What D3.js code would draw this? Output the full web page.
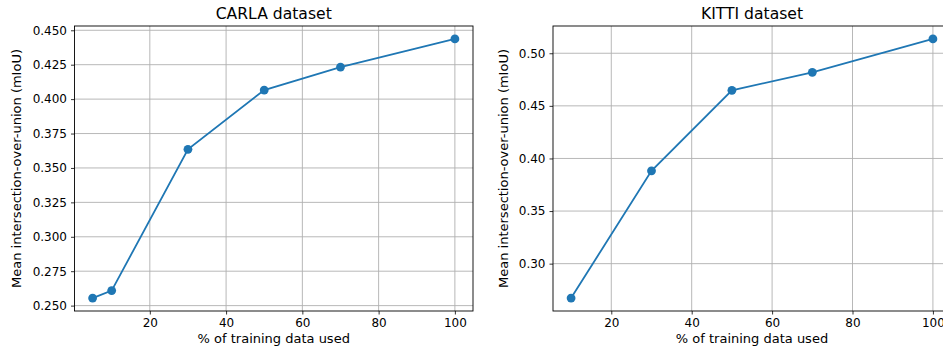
<!DOCTYPE html>
<html>
<head>
<meta charset="utf-8">
<script src="https://cdn.jsdelivr.net/npm/d3@7"></script>
<style>
  html, body { margin: 0; padding: 0; background: #fff; }
  svg { display: block; font-family: "DejaVu Sans", sans-serif; }
</style>
</head>
<body>
<svg id="chart" width="943" height="354"></svg>
<script>
// ---- data ----
const carlaPercent = [5, 10, 30, 50, 70, 100];
const carlaMIoU   = [0.2555, 0.2609, 0.3635, 0.4066, 0.4233, 0.4437];
const kittiPercent = [10, 30, 50, 70, 100];
const kittiMIoU    = [0.2673, 0.3882, 0.4648, 0.4819, 0.5136];
const xTickValues = [20, 40, 60, 80, 100];
const carlaYTicks = [0.250, 0.275, 0.300, 0.325, 0.350, 0.375, 0.400, 0.425, 0.450];
const kittiYTicks = [0.30, 0.35, 0.40, 0.45, 0.50];
const titles = ["CARLA dataset", "KITTI dataset"];
const xLabel = "% of training data used";
const yLabel = "Mean intersection-over-union (mIoU)";

const svg = d3.select("#chart");
const color = "#1f77b4";

function pad(ext) {
  const m = (ext[1] - ext[0]) * 0.05;
  return [ext[0] - m, ext[1] + m];
}

function panel(opts) {
  const { left, right, top, bottom, xs, ys, yTicks, yFmt, title, ylabX } = opts;
  const g = svg.append("g");
  const x = d3.scaleLinear().domain(pad(d3.extent(xs))).range([left, right]);
  const y = d3.scaleLinear().domain(pad(d3.extent(ys))).range([bottom, top]);

  const clipId = "clip" + Math.round(left);
  svg.append("clipPath").attr("id", clipId)
    .append("rect").attr("x", left).attr("y", top).attr("width", right - left).attr("height", bottom - top);

  // grid
  g.append("g").selectAll("line.gx").data(xTickValues).join("line")
    .attr("x1", d => x(d)).attr("x2", d => x(d)).attr("y1", top).attr("y2", bottom)
    .attr("stroke", "#b0b0b0").attr("stroke-width", 0.9);
  g.append("g").selectAll("line.gy").data(yTicks).join("line")
    .attr("x1", left).attr("x2", right).attr("y1", d => y(d)).attr("y2", d => y(d))
    .attr("stroke", "#b0b0b0").attr("stroke-width", 0.9);

  // axes
  const xAxis = d3.axisBottom(x).tickValues(xTickValues).tickSize(3.5).tickPadding(4).tickFormat(d3.format("d"));
  const gx = g.append("g").attr("transform", `translate(0,${bottom})`).call(xAxis);
  gx.select(".domain").remove();
  gx.selectAll("text").attr("font-size", 12).attr("fill", "#000").attr("font-family", "DejaVu Sans");
  gx.selectAll("line").attr("stroke", "#000").attr("stroke-width", 0.8);

  const yAxis = d3.axisLeft(y).tickValues(yTicks).tickSize(3.5).tickPadding(4).tickFormat(d3.format(yFmt));
  const gy = g.append("g").attr("transform", `translate(${left},0)`).call(yAxis);
  gy.select(".domain").remove();
  gy.selectAll("text").attr("font-size", 12).attr("fill", "#000").attr("font-family", "DejaVu Sans");
  gy.selectAll("line").attr("stroke", "#000").attr("stroke-width", 0.8);

  // line + markers
  const pts = xs.map((d, i) => [d, ys[i]]);
  const plot = g.append("g").attr("clip-path", `url(#${clipId})`);
  plot.append("path").datum(pts)
    .attr("d", d3.line().x(d => x(d[0])).y(d => y(d[1])))
    .attr("fill", "none").attr("stroke", color).attr("stroke-width", 1.8);
  plot.selectAll("circle").data(pts).join("circle")
    .attr("cx", d => x(d[0])).attr("cy", d => y(d[1])).attr("r", 4.4).attr("fill", color);

  // frame
  g.append("rect").attr("x", left).attr("y", top).attr("width", right - left).attr("height", bottom - top)
    .attr("fill", "none").attr("stroke", "#000").attr("stroke-width", 0.9);

  // title & labels
  const cx = (left + right) / 2;
  g.append("text").attr("x", cx).attr("y", 18.5).attr("text-anchor", "middle")
    .attr("font-size", 15.6).attr("fill", "#000").text(title);
  g.append("text").attr("x", cx).attr("y", 343).attr("text-anchor", "middle")
    .attr("font-size", 13).attr("fill", "#000").text(xLabel);
  g.append("text").attr("transform", `translate(${ylabX},${(top + bottom) / 2}) rotate(-90)`)
    .attr("text-anchor", "middle").attr("font-size", 13).attr("fill", "#000").text(yLabel);
}

panel({ left: 74.5, right: 473, top: 26, bottom: 311, xs: carlaPercent, ys: carlaMIoU,
        yTicks: carlaYTicks, yFmt: ".3f", title: titles[0], ylabX: 21 });
panel({ left: 553, right: 951, top: 26, bottom: 311, xs: kittiPercent, ys: kittiMIoU,
        yTicks: kittiYTicks, yFmt: ".2f", title: titles[1], ylabX: 507.5 });
</script>
</body>
</html>
